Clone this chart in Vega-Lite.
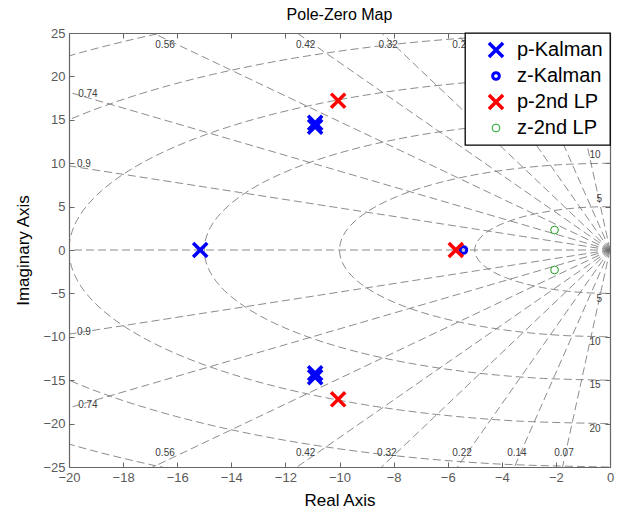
{
  "$schema": "https://vega.github.io/schema/vega-lite/v6.json",
  "width": 541,
  "height": 434,
  "autosize": {"type": "none"},
  "padding": {"left": 69, "top": 33, "right": 12, "bottom": 46},
  "title": {"text": "Pole-Zero Map", "fontSize": 16, "fontWeight": "normal", "font": "Liberation Sans", "color": "#000", "offset": 4},
  "config": {
    "view": {"stroke": null},
    "axis": {
      "grid": false,
      "labelFont": "Liberation Sans",
      "labelFontSize": 13,
      "labelColor": "#5a5a5a",
      "labelFlush": false,
      "labelOverlap": false,
      "titleFont": "Liberation Sans",
      "titleFontSize": 17,
      "titleFontWeight": "normal",
      "titleColor": "#000",
      "domainColor": "#666",
      "domainWidth": 1.2,
      "tickColor": "#666",
      "tickSize": -5,
      "labelPadding": 9
    },
    "legend": {
      "orient": "top-right",
      "offset": 0,
      "padding": 7,
      "strokeColor": "#000",
      "strokeWidth": 1.3,
      "fillColor": "#fff",
      "cornerRadius": 0,
      "labelFont": "Liberation Sans",
      "labelFontSize": 20,
      "labelColor": "#000",
      "labelLimit": 300,
      "rowPadding": 1,
      "symbolOffset": 14,
      "labelOffset": 11
    }
  },
  "datasets": {
    "grid": [
      {"g":"c5","o":0,"x":0,"y":5},{"g":"c5","o":1,"x":-0.868,"y":4.924},{"g":"c5","o":2,"x":-1.71,"y":4.698},{"g":"c5","o":3,"x":-2.5,"y":4.33},{"g":"c5","o":4,"x":-3.214,"y":3.83},{"g":"c5","o":5,"x":-3.83,"y":3.214},{"g":"c5","o":6,"x":-4.33,"y":2.5},{"g":"c5","o":7,"x":-4.698,"y":1.71},{"g":"c5","o":8,"x":-4.924,"y":0.868},{"g":"c5","o":9,"x":-5,"y":0},{"g":"c5","o":10,"x":-4.924,"y":-0.868},{"g":"c5","o":11,"x":-4.698,"y":-1.71},{"g":"c5","o":12,"x":-4.33,"y":-2.5},{"g":"c5","o":13,"x":-3.83,"y":-3.214},{"g":"c5","o":14,"x":-3.214,"y":-3.83},{"g":"c5","o":15,"x":-2.5,"y":-4.33},{"g":"c5","o":16,"x":-1.71,"y":-4.698},{"g":"c5","o":17,"x":-0.868,"y":-4.924},{"g":"c5","o":18,"x":0,"y":-5},
      {"g":"c10","o":0,"x":0,"y":10},{"g":"c10","o":1,"x":-1.736,"y":9.848},{"g":"c10","o":2,"x":-3.42,"y":9.397},{"g":"c10","o":3,"x":-5,"y":8.66},{"g":"c10","o":4,"x":-6.428,"y":7.66},{"g":"c10","o":5,"x":-7.66,"y":6.428},{"g":"c10","o":6,"x":-8.66,"y":5},{"g":"c10","o":7,"x":-9.397,"y":3.42},{"g":"c10","o":8,"x":-9.848,"y":1.736},{"g":"c10","o":9,"x":-10,"y":0},{"g":"c10","o":10,"x":-9.848,"y":-1.736},{"g":"c10","o":11,"x":-9.397,"y":-3.42},{"g":"c10","o":12,"x":-8.66,"y":-5},{"g":"c10","o":13,"x":-7.66,"y":-6.428},{"g":"c10","o":14,"x":-6.428,"y":-7.66},{"g":"c10","o":15,"x":-5,"y":-8.66},{"g":"c10","o":16,"x":-3.42,"y":-9.397},{"g":"c10","o":17,"x":-1.736,"y":-9.848},{"g":"c10","o":18,"x":0,"y":-10},
      {"g":"c15","o":0,"x":0,"y":15},{"g":"c15","o":1,"x":-2.605,"y":14.772},{"g":"c15","o":2,"x":-5.13,"y":14.095},{"g":"c15","o":3,"x":-7.5,"y":12.99},{"g":"c15","o":4,"x":-9.642,"y":11.49},{"g":"c15","o":5,"x":-11.49,"y":9.642},{"g":"c15","o":6,"x":-12.99,"y":7.5},{"g":"c15","o":7,"x":-14.095,"y":5.13},{"g":"c15","o":8,"x":-14.772,"y":2.605},{"g":"c15","o":9,"x":-15,"y":0},{"g":"c15","o":10,"x":-14.772,"y":-2.605},{"g":"c15","o":11,"x":-14.095,"y":-5.13},{"g":"c15","o":12,"x":-12.99,"y":-7.5},{"g":"c15","o":13,"x":-11.49,"y":-9.642},{"g":"c15","o":14,"x":-9.642,"y":-11.49},{"g":"c15","o":15,"x":-7.5,"y":-12.99},{"g":"c15","o":16,"x":-5.13,"y":-14.095},{"g":"c15","o":17,"x":-2.605,"y":-14.772},{"g":"c15","o":18,"x":0,"y":-15},
      {"g":"c20","o":0,"x":0,"y":20},{"g":"c20","o":1,"x":-3.473,"y":19.696},{"g":"c20","o":2,"x":-6.84,"y":18.794},{"g":"c20","o":3,"x":-10,"y":17.32},{"g":"c20","o":4,"x":-12.856,"y":15.32},{"g":"c20","o":5,"x":-15.32,"y":12.856},{"g":"c20","o":6,"x":-17.32,"y":10},{"g":"c20","o":7,"x":-18.794,"y":6.84},{"g":"c20","o":8,"x":-19.696,"y":3.473},{"g":"c20","o":9,"x":-20,"y":0},{"g":"c20","o":10,"x":-19.696,"y":-3.473},{"g":"c20","o":11,"x":-18.794,"y":-6.84},{"g":"c20","o":12,"x":-17.32,"y":-10},{"g":"c20","o":13,"x":-15.32,"y":-12.856},{"g":"c20","o":14,"x":-12.856,"y":-15.32},{"g":"c20","o":15,"x":-10,"y":-17.32},{"g":"c20","o":16,"x":-6.84,"y":-18.794},{"g":"c20","o":17,"x":-3.473,"y":-19.696},{"g":"c20","o":18,"x":0,"y":-20},
      {"g":"c25","o":0,"x":0,"y":25},{"g":"c25","o":1,"x":-4.341,"y":24.62},{"g":"c25","o":2,"x":-8.55,"y":23.492},{"g":"c25","o":3,"x":-12.5,"y":21.65},{"g":"c25","o":4,"x":-16.07,"y":19.151},{"g":"c25","o":5,"x":-19.151,"y":16.07},{"g":"c25","o":6,"x":-21.65,"y":12.5},{"g":"c25","o":7,"x":-23.492,"y":8.55},{"g":"c25","o":8,"x":-24.62,"y":4.341},{"g":"c25","o":9,"x":-25,"y":0},{"g":"c25","o":10,"x":-24.62,"y":-4.341},{"g":"c25","o":11,"x":-23.492,"y":-8.55},{"g":"c25","o":12,"x":-21.65,"y":-12.5},{"g":"c25","o":13,"x":-19.151,"y":-16.07},{"g":"c25","o":14,"x":-16.07,"y":-19.151},{"g":"c25","o":15,"x":-12.5,"y":-21.65},{"g":"c25","o":16,"x":-8.55,"y":-23.492},{"g":"c25","o":17,"x":-4.341,"y":-24.62},{"g":"c25","o":18,"x":0,"y":-25},
      {"g":"c30","o":0,"x":0,"y":30},{"g":"c30","o":1,"x":-5.209,"y":29.544},{"g":"c30","o":2,"x":-10.26,"y":28.191},{"g":"c30","o":3,"x":-15,"y":25.98},{"g":"c30","o":4,"x":-19.284,"y":22.981},{"g":"c30","o":5,"x":-22.981,"y":19.284},{"g":"c30","o":6,"x":-25.98,"y":15},{"g":"c30","o":7,"x":-28.191,"y":10.26},{"g":"c30","o":8,"x":-29.544,"y":5.209},{"g":"c30","o":9,"x":-30,"y":0},{"g":"c30","o":10,"x":-29.544,"y":-5.209},{"g":"c30","o":11,"x":-28.191,"y":-10.26},{"g":"c30","o":12,"x":-25.98,"y":-15},{"g":"c30","o":13,"x":-22.981,"y":-19.284},{"g":"c30","o":14,"x":-19.284,"y":-22.981},{"g":"c30","o":15,"x":-15,"y":-25.98},{"g":"c30","o":16,"x":-10.26,"y":-28.191},{"g":"c30","o":17,"x":-5.209,"y":-29.544},{"g":"c30","o":18,"x":0,"y":-30},
      {"g":"r07u","o":0,"x":0,"y":0},{"g":"r07u","o":1,"x":-2.8,"y":39.9},
      {"g":"r07l","o":0,"x":0,"y":0},{"g":"r07l","o":1,"x":-2.8,"y":-39.9},
      {"g":"r14u","o":0,"x":0,"y":0},{"g":"r14u","o":1,"x":-5.6,"y":39.61},
      {"g":"r14l","o":0,"x":0,"y":0},{"g":"r14l","o":1,"x":-5.6,"y":-39.61},
      {"g":"r22u","o":0,"x":0,"y":0},{"g":"r22u","o":1,"x":-8.8,"y":39.02},
      {"g":"r22l","o":0,"x":0,"y":0},{"g":"r22l","o":1,"x":-8.8,"y":-39.02},
      {"g":"r32u","o":0,"x":0,"y":0},{"g":"r32u","o":1,"x":-12.8,"y":37.9},
      {"g":"r32l","o":0,"x":0,"y":0},{"g":"r32l","o":1,"x":-12.8,"y":-37.9},
      {"g":"r42u","o":0,"x":0,"y":0},{"g":"r42u","o":1,"x":-16.8,"y":36.3},
      {"g":"r42l","o":0,"x":0,"y":0},{"g":"r42l","o":1,"x":-16.8,"y":-36.3},
      {"g":"r56u","o":0,"x":0,"y":0},{"g":"r56u","o":1,"x":-22.4,"y":33.14},
      {"g":"r56l","o":0,"x":0,"y":0},{"g":"r56l","o":1,"x":-22.4,"y":-33.14},
      {"g":"r74u","o":0,"x":0,"y":0},{"g":"r74u","o":1,"x":-29.6,"y":26.9},
      {"g":"r74l","o":0,"x":0,"y":0},{"g":"r74l","o":1,"x":-29.6,"y":-26.9},
      {"g":"r90u","o":0,"x":0,"y":0},{"g":"r90u","o":1,"x":-36,"y":17.44},
      {"g":"r90l","o":0,"x":0,"y":0},{"g":"r90l","o":1,"x":-36,"y":-17.44},
      {"g":"r100","o":0,"x":0,"y":0},{"g":"r100","o":1,"x":-40,"y":0}
    ],
    "labels": [
      {"t":"0.56","x":-16.45,"y":23.6},{"t":"0.42","x":-11.25,"y":23.6},{"t":"0.32","x":-8.2,"y":23.6},{"t":"0.22","x":-5.47,"y":23.6},{"t":"0.14","x":-3.44,"y":23.6},{"t":"0.07","x":-1.7,"y":23.6},
      {"t":"0.56","x":-16.45,"y":-23.4},{"t":"0.42","x":-11.25,"y":-23.4},{"t":"0.32","x":-8.25,"y":-23.4},{"t":"0.22","x":-5.47,"y":-23.4},{"t":"0.14","x":-3.44,"y":-23.4},{"t":"0.07","x":-1.7,"y":-23.4},
      {"t":"0.74","x":-19.3,"y":18.0},{"t":"0.9","x":-19.45,"y":9.9},{"t":"0.9","x":-19.45,"y":-9.5},{"t":"0.74","x":-19.3,"y":-17.8},
      {"t":"5","x":-0.4,"y":5.9},{"t":"10","x":-0.55,"y":11.0},{"t":"15","x":-0.55,"y":16.0},{"t":"20","x":-0.55,"y":21.0},
      {"t":"5","x":-0.4,"y":-5.65},{"t":"10","x":-0.55,"y":-10.6},{"t":"15","x":-0.55,"y":-15.6},{"t":"20","x":-0.55,"y":-20.6}
    ],
    "pz": [
      {"s":"p-Kalman","x":-15.15,"y":0},
      {"s":"p-Kalman","x":-10.9,"y":14.65},
      {"s":"p-Kalman","x":-10.9,"y":14.2},
      {"s":"p-Kalman","x":-10.9,"y":-14.65},
      {"s":"p-Kalman","x":-10.9,"y":-14.2},
      {"s":"z-Kalman","x":-5.42,"y":0},
      {"s":"p-2nd LP","x":-10.05,"y":17.2},
      {"s":"p-2nd LP","x":-10.05,"y":-17.2},
      {"s":"p-2nd LP","x":-5.7,"y":0},
      {"s":"z-2nd LP","x":-2.05,"y":2.3},
      {"s":"z-2nd LP","x":-2.05,"y":-2.3}
    ]
  },
  "resolve": {"axis": {"x": "independent", "y": "independent"}},
  "layer": [
    {
      "data": {"name": "grid"},
      "mark": {"type": "line", "clip": true, "interpolate": "cardinal", "stroke": "#6e6e6e", "strokeWidth": 0.8, "strokeDash": [8, 4]},
      "encoding": {
        "x": {"field": "x", "type": "quantitative", "scale": {"domain": [-20, 0], "nice": false, "zero": false}, "axis": {"orient": "bottom", "title": "Real Axis", "values": [-20,-18,-16,-14,-12,-10,-8,-6,-4,-2,0], "titlePadding": 8}},
        "y": {"field": "y", "type": "quantitative", "scale": {"domain": [-25, 25], "nice": false, "zero": false}, "axis": {"orient": "left", "title": "Imaginary Axis", "values": [-25,-20,-15,-10,-5,0,5,10,15,20,25], "titlePadding": 10}},
        "detail": {"field": "g"},
        "order": {"field": "o", "type": "quantitative"}
      }
    },
    {
      "data": {"name": "labels"},
      "mark": {"type": "text", "font": "Liberation Sans", "fontSize": 10, "color": "#404040", "align": "center", "baseline": "middle"},
      "encoding": {
        "x": {"field": "x", "type": "quantitative", "axis": null},
        "y": {"field": "y", "type": "quantitative", "axis": null},
        "text": {"field": "t"}
      }
    },
    {
      "data": {"name": "pz"},
      "mark": {"type": "point", "filled": false, "opacity": 1},
      "encoding": {
        "x": {"field": "x", "type": "quantitative", "axis": {"orient": "top", "labels": false, "title": null, "values": [-20,-18,-16,-14,-12,-10,-8,-6,-4,-2,0]}},
        "y": {"field": "y", "type": "quantitative", "axis": {"orient": "right", "labels": false, "title": null, "values": [-25,-20,-15,-10,-5,0,5,10,15,20,25]}},
        "color": {"field": "s", "type": "nominal", "scale": {"domain": ["p-Kalman","z-Kalman","p-2nd LP","z-2nd LP"], "range": ["#0000ff","#0000ff","#ff0000","#22a022"]}, "legend": {"title": null}},
        "shape": {"field": "s", "type": "nominal", "scale": {"domain": ["p-Kalman","z-Kalman","p-2nd LP","z-2nd LP"], "range": ["M-1,-1L1,1M-1,1L1,-1","circle","M-1,-1L1,1M-1,1L1,-1","circle"]}, "legend": {"title": null}},
        "size": {"field": "s", "type": "nominal", "scale": {"type": "ordinal", "domain": ["p-Kalman","z-Kalman","p-2nd LP","z-2nd LP"], "range": [200, 45, 200, 60]}, "legend": {"title": null}},
        "strokeWidth": {"field": "s", "type": "nominal", "scale": {"type": "ordinal", "domain": ["p-Kalman","z-Kalman","p-2nd LP","z-2nd LP"], "range": [3.5, 3, 3.5, 1]}, "legend": {"title": null}}
      }
    }
  ]
}
